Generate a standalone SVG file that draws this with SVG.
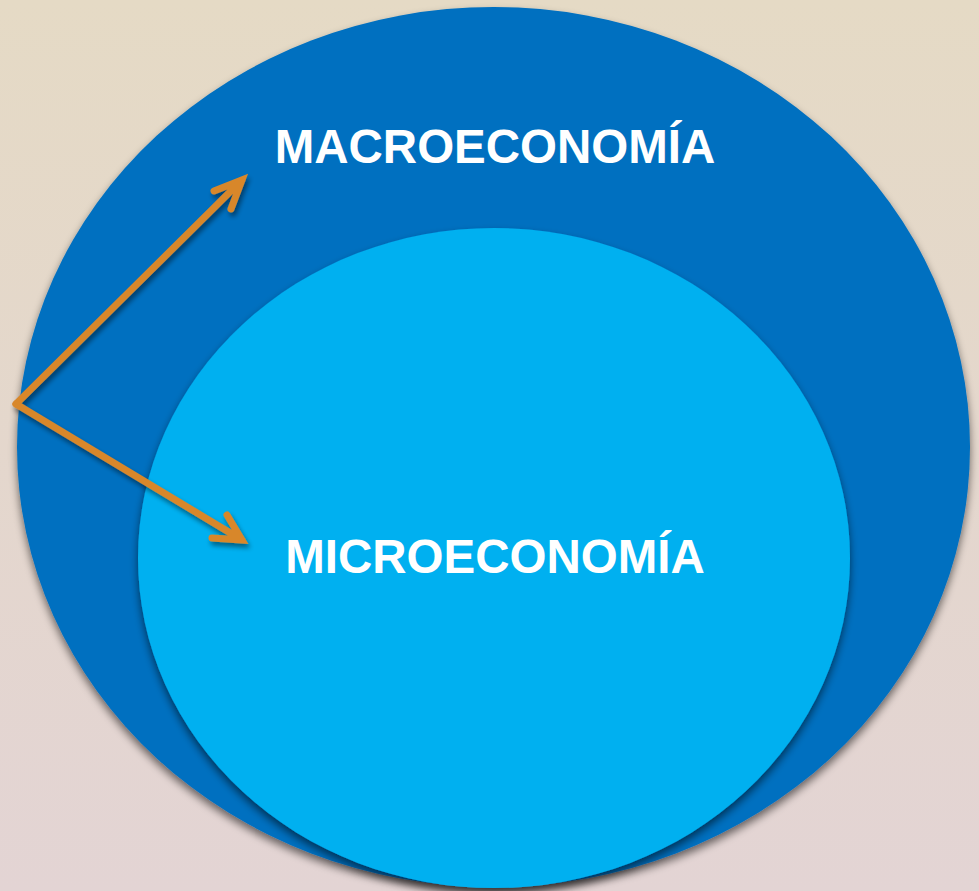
<svg xmlns="http://www.w3.org/2000/svg" width="979" height="891" viewBox="0 0 979 891">
<defs>
<linearGradient id="bg" x1="0" y1="0" x2="0" y2="1">
<stop offset="0" stop-color="#e5dac5"/>
<stop offset="1" stop-color="#e3d4d4"/>
</linearGradient>
<filter id="sh" x="-10%" y="-10%" width="120%" height="125%">
<feGaussianBlur in="SourceAlpha" stdDeviation="4"/>
<feOffset dx="0" dy="5" result="b"/>
<feComponentTransfer><feFuncA type="linear" slope="0.55"/></feComponentTransfer>
<feMerge><feMergeNode/><feMergeNode in="SourceGraphic"/></feMerge>
</filter>
<filter id="ash" x="-20%" y="-20%" width="140%" height="140%">
<feGaussianBlur in="SourceAlpha" stdDeviation="2.5"/>
<feOffset dx="2" dy="4"/>
<feComponentTransfer><feFuncA type="linear" slope="0.45"/></feComponentTransfer>
<feMerge><feMergeNode/><feMergeNode in="SourceGraphic"/></feMerge>
</filter>
</defs>
<style>
.lbl{font-family:"Liberation Sans",Arial,sans-serif;font-weight:bold;font-size:47.5px;fill:#ffffff;text-anchor:middle}
.arr{fill:none;stroke:#d8872c;stroke-width:7;stroke-linecap:round;stroke-linejoin:miter}
</style>
<rect width="979" height="891" fill="url(#bg)"/>
<g id="macro">
<ellipse cx="493.5" cy="447" rx="476.5" ry="440" fill="#0070c0" filter="url(#sh)"/>
<text class="lbl" x="495" y="163">MACROECONOMÍA</text>
</g>
<g id="micro">
<ellipse cx="494" cy="558" rx="356" ry="330" fill="#00b0f0" filter="url(#sh)"/>
<text class="lbl" x="495" y="573">MICROECONOMÍA</text>
</g>
<g id="connectors" filter="url(#ash)">
<path class="arr" d="M16,404 L242,180 M214,191 L242,180 L231,209"/>
<path class="arr" d="M16,404 L242,540 M212,538 L242,540 L227,515"/>
</g>
</svg>
